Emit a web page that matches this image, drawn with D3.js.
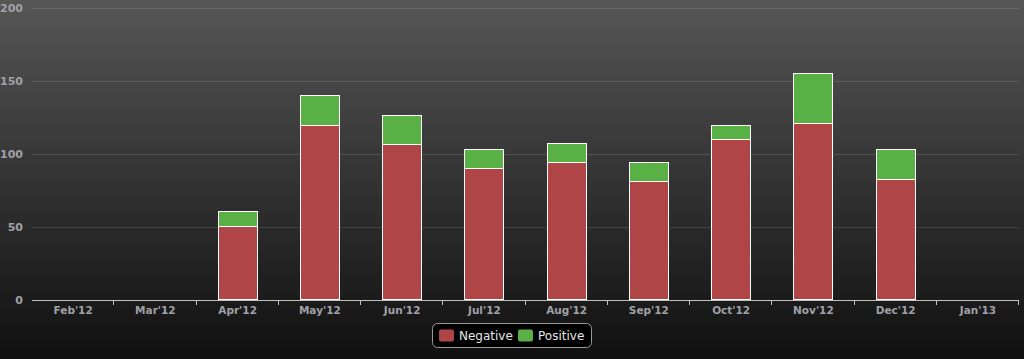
<!DOCTYPE html>
<html><head><meta charset="utf-8">
<script src="https://cdn.jsdelivr.net/npm/d3@7"></script>
<style>html,body{margin:0;padding:0;background:#111;}svg{display:block;}</style>
</head><body>
<svg id="c" width="1024" height="359"></svg>
<script>
const categories = ["Feb'12","Mar'12","Apr'12","May'12","Jun'12","Jul'12","Aug'12","Sep'12","Oct'12","Nov'12","Dec'12","Jan'13"];
const negative = [0,0,50,119,106,90,94,81,110,121,82,0];
const positive = [0,0,10,21,20,13,13,13,9,34,21,0];
const yTicks = [0,50,100,150,200];
const seriesNames = ["Negative","Positive"];
const seriesColors = ["#b04547","#59b045"];

(function(){
const W=1024,H=359;
const svg=d3.select("#c");
const defs=svg.append("defs");
const g=defs.append("linearGradient").attr("id","bg").attr("x1",0).attr("y1",0).attr("x2",0).attr("y2",1);
g.append("stop").attr("offset","0%").attr("stop-color","rgb(86,86,86)");
g.append("stop").attr("offset","100%").attr("stop-color","rgb(16,16,16)");
svg.append("rect").attr("width",W).attr("height",H).attr("fill","url(#bg)");

const pLeft=32,pRight=1019,pTop=8.3,pBottom=300;
const x=d3.scaleBand().domain(categories).range([pLeft,pRight]).paddingInner(0).paddingOuter(0);
const y=d3.scaleLinear().domain([0,200]).range([pBottom,pTop]);

// grid
svg.append("g").selectAll("line").data(yTicks.filter(d=>d>0)).join("line")
  .attr("x1",pLeft).attr("x2",pRight).attr("y1",d=>Math.round(y(d))+0.5).attr("y2",d=>Math.round(y(d))+0.5)
  .attr("stroke","rgba(255,255,255,0.12)").attr("stroke-width",1);

// y labels
svg.append("g").selectAll("text").data(yTicks).join("text")
  .attr("x",23).attr("y",d=>y(d)+4).attr("text-anchor","end")
  .attr("font-family","'DejaVu Sans',sans-serif").attr("font-weight","bold").attr("font-size","11px")
  .attr("fill","#a0a0a6").text(d=>d);

// bars
const stackData=categories.map((c,i)=>({c,Negative:negative[i],Positive:positive[i]}));
const stack=d3.stack().keys(seriesNames)(stackData);
const bw=40;
stack.forEach((s,si)=>{
  svg.append("g").selectAll("rect").data(s.filter(d=>d[1]-d[0]>0)).join("rect")
    .attr("x",d=>Math.round(x(d.data.c)+x.bandwidth()/2-bw/2)+0.5)
    .attr("width",bw-1)
    .attr("y",d=>Math.round(y(d[1]))-0.5)
    .attr("height",d=>Math.round(y(d[0]))-Math.round(y(d[1])))
    .attr("fill",seriesColors[si]).attr("stroke","#fff").attr("stroke-width",1);
});

// x axis
const xa=svg.append("g");
xa.append("line").attr("x1",pLeft).attr("x2",pRight).attr("y1",pBottom+0.5).attr("y2",pBottom+0.5).attr("stroke","#c0c0c0").attr("stroke-width",1);
xa.selectAll("line.t").data(categories).join("line").attr("class","t")
  .attr("x1",d=>Math.round(x(d)+x.bandwidth())-0.5).attr("x2",d=>Math.round(x(d)+x.bandwidth())-0.5)
  .attr("y1",pBottom).attr("y2",pBottom+5).attr("stroke","#c0c0c0");
xa.selectAll("text").data(categories).join("text")
  .attr("x",d=>x(d)+x.bandwidth()/2).attr("y",314).attr("text-anchor","middle")
  .attr("font-family","'DejaVu Sans',sans-serif").attr("font-weight","bold").attr("font-size","10.5px")
  .attr("fill","#a0a0a6").text(d=>d);

// legend
const lg=svg.append("g");
lg.append("rect").attr("x",432.5).attr("y",323.5).attr("width",159).attr("height",24).attr("rx",5)
  .attr("fill","#000").attr("stroke","#9a9a9a").attr("stroke-width",1);
const lx=[439,518];
seriesNames.forEach((n,i)=>{
  lg.append("rect").attr("x",lx[i]).attr("y",329.5).attr("width",15).attr("height",12).attr("rx",2)
    .attr("fill",seriesColors[i]);
  lg.append("text").attr("x",lx[i]+20).attr("y",340).attr("font-family","'DejaVu Sans',sans-serif")
    .attr("font-size","12px").attr("fill","#e6e6e6").text(n);
});
})();
</script>
</body></html>
